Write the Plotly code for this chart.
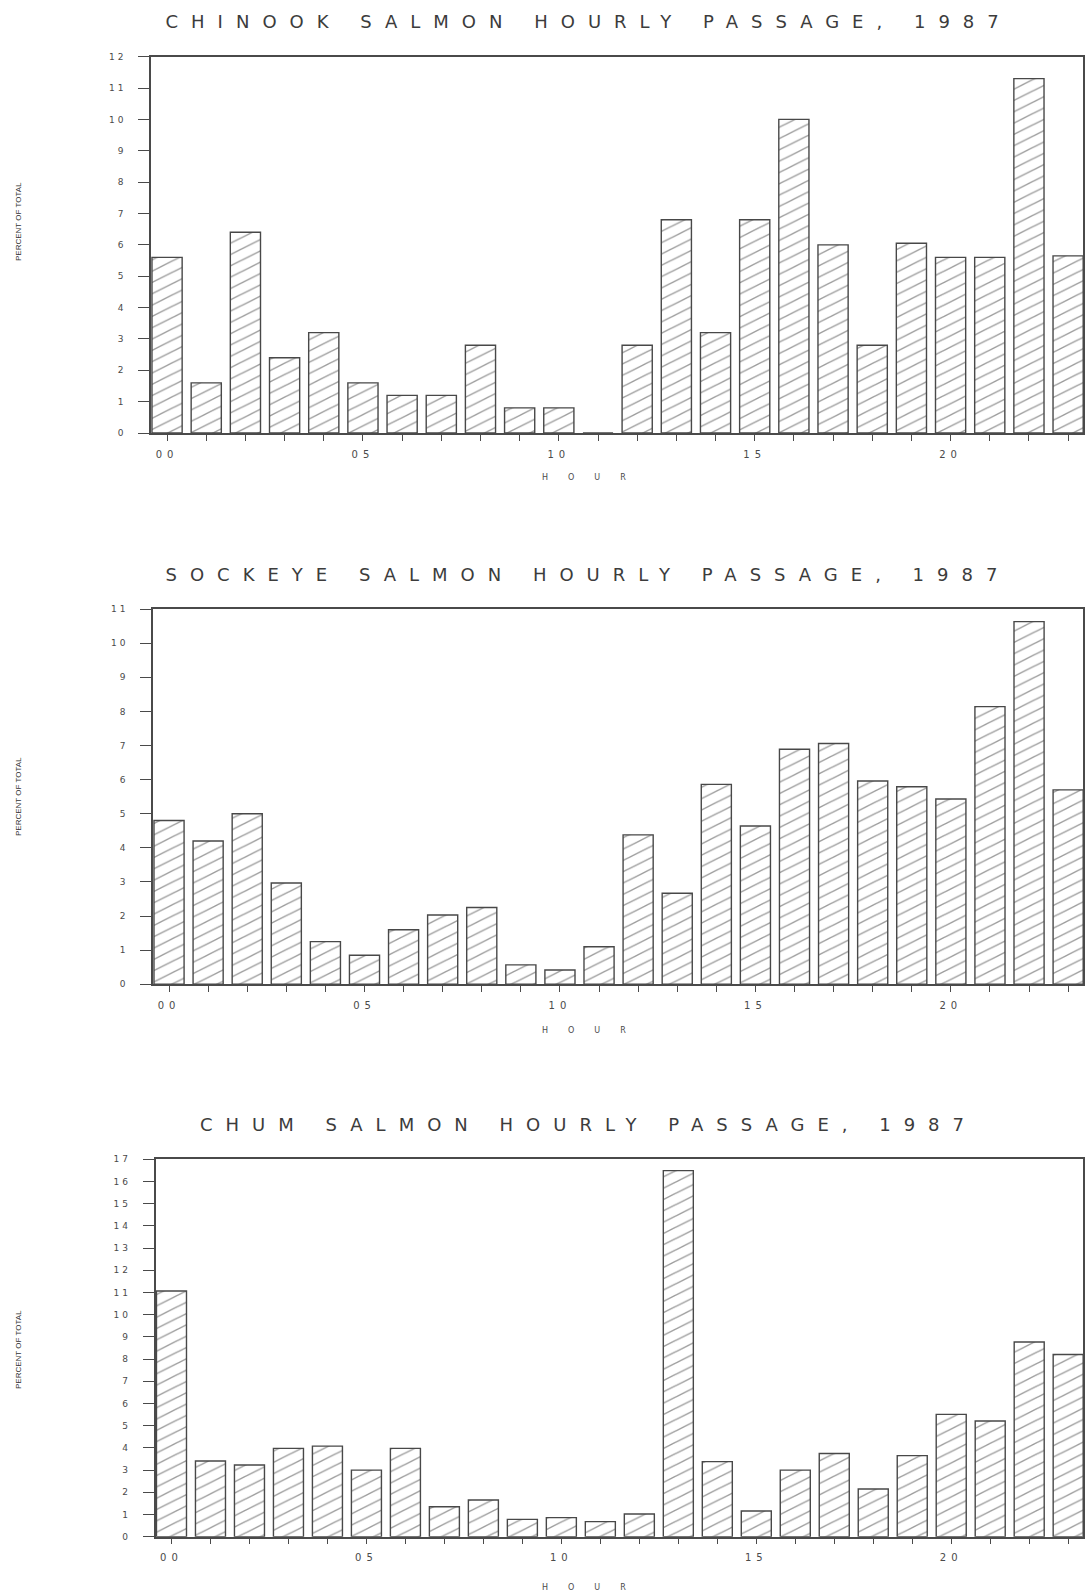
import plotly.graph_objects as go

hours = list(range(24))
hour_labels = [f"{h:02d}" if h % 5 == 0 else "" for h in hours]

chinook = [5.6, 1.6, 6.4, 2.4, 3.2, 1.6, 1.2, 1.2, 2.8, 0.8, 0.8, 0.0,
           2.8, 6.8, 3.2, 6.8, 10.0, 6.0, 2.8, 6.05, 5.6, 5.6, 11.3, 5.65]
sockeye = [4.8, 4.2, 5.0, 2.97, 1.25, 0.85, 1.6, 2.03, 2.25, 0.57, 0.42, 1.1,
           4.38, 2.67, 5.86, 4.64, 6.89, 7.06, 5.96, 5.79, 5.43, 8.14, 10.63, 5.7]
chum = [11.07, 3.41, 3.23, 3.98, 4.08, 3.0, 3.98, 1.35, 1.65, 0.78, 0.86, 0.68,
        1.02, 16.49, 3.38, 1.16, 3.0, 3.75, 2.15, 3.65, 5.51, 5.21, 8.77, 8.21]

titles = ["CHINOOK SALMON HOURLY PASSAGE, 1987",
          "SOCKEYE SALMON HOURLY PASSAGE, 1987",
          "CHUM SALMON HOURLY PASSAGE, 1987"]
ymax = [12, 11, 17]
series = [chinook, sockeye, chum]

W, H = 1087, 1591
# pixel geometry of each panel: (left, right, top, bottom)
panels = [(151, 1083, 56.7, 433.0),
          (153, 1083, 609.0, 984.3),
          (155.5, 1083, 1159.3, 1536.7)]
title_y = [21, 574, 1124]
hour_y = [477, 1030, 1587]
ytitle_y = [222, 797, 1350]

INK = "#4a4a4a"
fig = go.Figure()
layout = dict(autosize=True, margin=dict(l=0, r=0, t=0, b=0, autoexpand=False),
              paper_bgcolor="white", plot_bgcolor="white",
              showlegend=False, annotations=[])

for i, (vals, ttl, ym, (l, r, t, b)) in enumerate(zip(series, titles, ymax, panels)):
    n = "" if i == 0 else str(i + 1)
    fig.add_trace(go.Bar(
        x=hours, y=vals, xaxis="x" + n, yaxis="y" + n, width=0.77,
        marker=dict(color="white", line=dict(color="#484848", width=1.4),
                    pattern=dict(shape="/", fgcolor="#3a3a3a", bgcolor="white",
                                 size=8, solidity=0.14)),
        hoverinfo="skip"))
    layout["xaxis" + n] = dict(
        domain=[l / W, r / W], anchor="y" + n, range=[-0.41, 23.38],
        tickmode="array", tickvals=hours, ticktext=hour_labels,
        ticks="outside", ticklen=6, tickwidth=1, tickcolor=INK,
        ticklabelstandoff=5,
        showline=True, linecolor=INK, linewidth=1.5, mirror=True,
        showgrid=False, zeroline=False, fixedrange=True,
        tickfont=dict(family="DejaVu Sans", size=10, color=INK))
    layout["yaxis" + n] = dict(
        domain=[1 - b / H, 1 - t / H], anchor="x" + n, range=[0, ym],
        tickmode="linear", tick0=0, dtick=1,
        ticks="outside", ticklen=11, tickwidth=1.3, tickcolor=INK,
        ticklabelstandoff=10,
        showline=True, linecolor=INK, linewidth=1.5, mirror=True,
        showgrid=False, zeroline=False, fixedrange=True,
        tickfont=dict(family="DejaVu Sans", size=9, color=INK))
    layout["annotations"] += [
        dict(text=ttl, x=588 / W, y=1 - title_y[i] / H, xref="paper", yref="paper",
             showarrow=False, xanchor="center", yanchor="middle",
             font=dict(family="DejaVu Sans", size=18, color="#3c3c3c")),
        dict(text="HOUR", x=594 / W, y=1 - hour_y[i] / H, xref="paper", yref="paper",
             showarrow=False, xanchor="center", yanchor="middle",
             font=dict(family="DejaVu Sans", size=8, color=INK)),
        dict(text="PERCENT OF TOTAL", x=18 / W, y=1 - ytitle_y[i] / H,
             xref="paper", yref="paper", showarrow=False, textangle=-90,
             xanchor="center", yanchor="middle",
             font=dict(family="Liberation Sans", size=8, color="#333333")),
    ]

fig.update_layout(**layout)

post = """
document.documentElement.style.margin = '0';
document.documentElement.style.overflow = 'hidden';
document.body.style.margin = '0';
document.body.style.padding = '0';
document.body.style.overflow = 'hidden';
function styleIt(){
  document.querySelectorAll('.annotation-text').forEach(function(t){
    var s = t.textContent;
    if (s.indexOf('1987') >= 0) { t.style.letterSpacing = '13px'; }
    else if (s === 'HOUR') { t.style.letterSpacing = '20px'; }
  });
  document.querySelectorAll('.xtick text, .x2tick text, .x3tick text').forEach(function(t){ t.style.letterSpacing = '5px'; });
  document.querySelectorAll('.ytick text, .y2tick text, .y3tick text').forEach(function(t){ t.style.letterSpacing = '3px'; });
  /* flatten the hatch angle to match the shallow diagonal of the original */
  document.querySelectorAll('pattern').forEach(function(p){ p.setAttribute('patternTransform', 'scale(2,1)'); });
}
var gd = document.getElementById('{plot_id}');
gd.style.width = window.innerWidth + 'px';
gd.style.height = window.innerHeight + 'px';
Plotly.Plots.resize(gd).then(styleIt);
styleIt();
"""
fig.write_html("out.html", post_script=post, default_width="100vw", default_height="100vh",
               config={"displayModeBar": False, "responsive": True})
